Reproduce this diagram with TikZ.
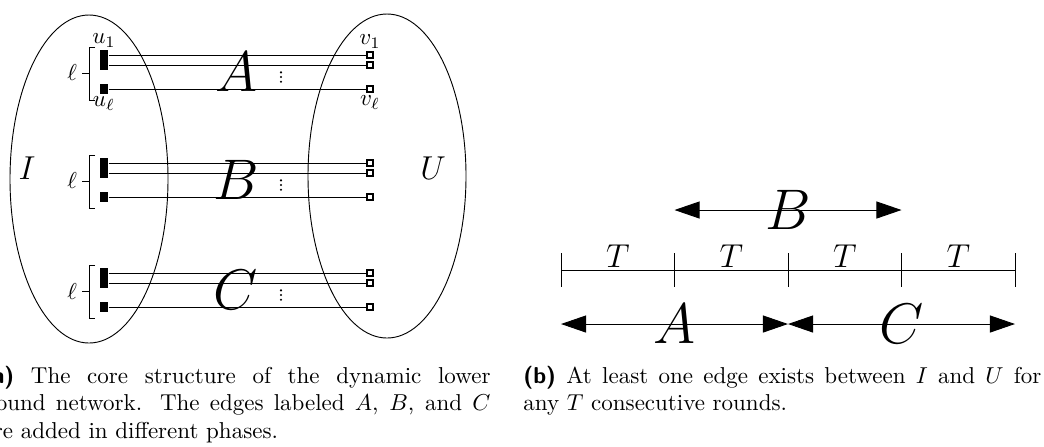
\documentclass[tikz,border=0pt]{standalone}
\usetikzlibrary{arrows.meta, positioning}

\begin{document}
\begin{tikzpicture}[
		x=0.4348pt, y=-0.4348pt,
		src/.style={fill=black, inner sep=0pt, minimum width=3.6pt, minimum height=4.1pt},
		dst/.style={draw, fill=white, line width=0.7pt, inner sep=0pt, minimum size=2.8pt},
		edge/.style={thin},
		lbl/.style={inner sep=1pt},
		phase/.style={font=\Huge, inner sep=0pt},
		side/.style={font=\Large},
		span/.style={{Triangle[length=10.9pt,width=7.4pt]}-{Triangle[length=10.9pt,width=7.4pt]}, thin},
		caption/.style={anchor=base west, inner sep=0pt, align=justify}
		]
		\useasboundingbox (0,0) rectangle (1044,446);
		
		% (a) the two sides
		\draw (89,179) ellipse [x radius=79, y radius=164];
		\draw (387,176) ellipse [x radius=79, y radius=162];
		\node[side] (I) at (27,168) {$I$};
		\node[side] (U) at (433,168) {$U$};
		
		% (a) the three groups of edges
		\foreach \g/\y in {A/55, B/163, C/273} {
			\node[src] (u\g1) at (104,\y) {};
			\node[src] (u\g2) at (104,\y+10) {};
			\node[src] (u\g3) at (104,\y+34) {};
			\node[dst] (v\g1) at (370,\y) {};
			\node[dst] (v\g2) at (370,\y+10) {};
			\node[dst] (v\g3) at (370,\y+34) {};
			\foreach \i in {1,2,3}
				\draw[edge] (u\g\i) -- (v\g\i);
			\draw (95,\y-8) -- (89,\y-8) -- (89,\y+45) -- (95,\y+45);
			\draw (89,\y+18) -- (82,\y+18);
			\node[left=0pt, inner sep=2pt] (l\g) at (82,\y+18) {$\ell$};
			\node[phase] (e\g) at (236,\y+17) {$\g$};
			\foreach \d in {-4.7,0,4.7}
				\fill (281,\y+22+\d) circle (1.2);
		}
		\node[lbl, above=0pt of uA1] (nu1) {$u_1$};
		\node[lbl, below=0pt of uA3] (nul) {$u_\ell$};
		\node[lbl, above=0pt of vA1] (nv1) {$v_1$};
		\node[lbl, below=0pt of vA3] (nvl) {$v_\ell$};
		
		% (b) time line
		\foreach \i in {0,...,4} {
			\coordinate (t\i) at (561+113.5*\i,270);
			\coordinate (hi\i) at (561+113.5*\i,210);
			\coordinate (lo\i) at (561+113.5*\i,324);
			\draw (561+113.5*\i,253) -- (561+113.5*\i,287);
		}
		\draw (t0) -- (t4);
		\foreach \i/\j in {0/1,1/2,2/3,3/4}
			\path (t\i) -- node[lbl, above=0pt, font=\Large] {$T$} (t\j);
		\draw[span] (hi1) -- node[phase] {$B$} (hi3);
		\draw[span] (lo0) -- node[phase] {$A$} (lo2);
		\draw[span] (lo2) -- node[phase] {$C$} (lo4);
		
		% captions
		\node[caption, text width=220.9pt] (capa) at (-18,383) {\textsf{\textbf{(a)}} The core structure of the dynamic lower\linebreak bound network. The edges labeled $A$, $B$, and $C$\linebreak are added in different phases.};
		\node[caption, text width=225.2pt] (capb) at (523,383) {\textsf{\textbf{(b)}} At least one edge exists between $I$ and $U$ for\linebreak any $T$ consecutive rounds.};
		
	\end{tikzpicture}
\end{document}
